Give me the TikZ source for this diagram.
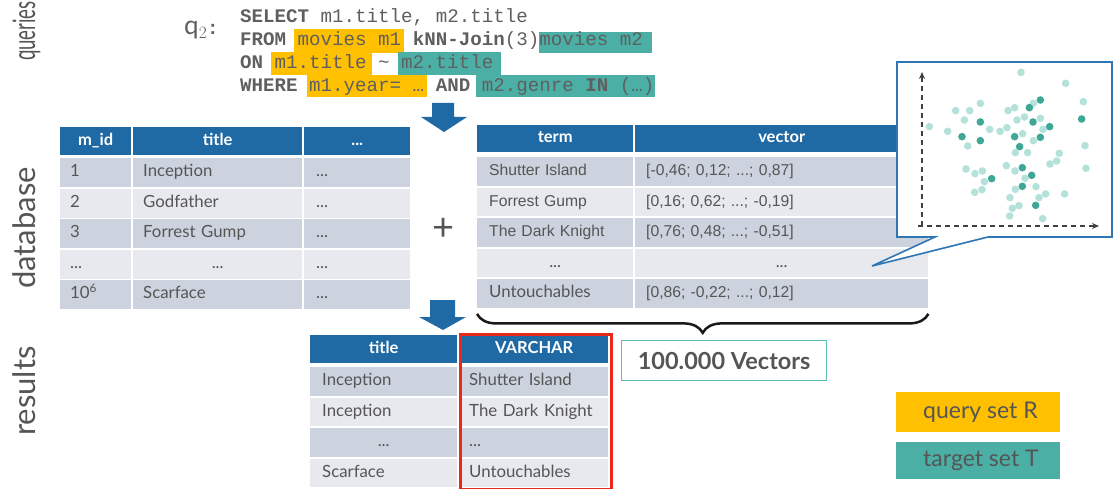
\documentclass[tikz,border=0pt]{standalone}
\usepackage{fontspec}
\setmainfont{Lato}
\setsansfont{Lato}
\setmonofont{Liberation Mono}
\newfontfamily\arialfont{Liberation Sans}
\usetikzlibrary{arrows.meta,decorations.pathreplacing}

\definecolor{hblue}{HTML}{1F69A4}
\definecolor{rowA}{HTML}{CDD3DE}
\definecolor{rowB}{HTML}{E7E9EE}
\definecolor{tgray}{HTML}{555555}
\definecolor{cgray}{HTML}{5F5F5F}
\definecolor{qyellow}{HTML}{FFC000}
\definecolor{tteal}{HTML}{4BAFA5}
\definecolor{bteal}{HTML}{5CBDB2}
\definecolor{selred}{HTML}{E8291C}
\definecolor{dotlight}{HTML}{B5E1DB}
\definecolor{dotdark}{HTML}{3FA796}
\definecolor{callblue}{HTML}{2F76B5}
\definecolor{axisgray}{HTML}{404040}
\newcommand{\ellip}{.{}.{}.}

\begin{document}
\begin{tikzpicture}[x=1pt,y=-1pt,
  celltext/.style={font=\fontsize{16.8}{18}\selectfont, text=tgray, text height=12pt, text depth=3.5pt},
  hd/.style={anchor=north west, fill=hblue, text=white, inner sep=0pt,
    font=\fontsize{16.5}{18}\selectfont\bfseries, text height=12pt, text depth=3.5pt},
  rc/.style={anchor=north west, fill=#1, inner xsep=10pt, inner ysep=0pt, align=left, celltext},
  rcc/.style={anchor=north west, fill=#1, inner xsep=0pt, inner ysep=0pt, align=center, celltext},
  code/.style={anchor=base west, inner sep=0pt, text=cgray, font=\ttfamily\fontsize{19.17}{20}\selectfont},
  side/.style={anchor=base, rotate=90, inner sep=0pt, text=tgray, font=\fontsize{31}{33}\selectfont},
  blockarrow/.style={fill=hblue},
  legbox/.style={anchor=north west, fill=#1, minimum width=164pt, inner sep=0pt},
  legtext/.style={anchor=west, inner sep=0pt, text=tgray, font=\fontsize{23}{25}\selectfont},
  dotL/.style={fill=dotlight},
  dotD/.style={fill=dotdark}
]
\useasboundingbox (0,0) rectangle (1113,489);

% ---------- side labels ----------
\node[side] (lq) at (35,31) {\scalebox{0.6}[1]{queries}};
\node[side] (ld) at (35,228) {database};
\node[side] (lr) at (35,391) {results};

% ---------- query ----------
\fill[qyellow] (294,29) rectangle (404,53);
\fill[tteal]   (539,32) rectangle (652,53);
\fill[qyellow] (271,52) rectangle (372,75);
\fill[tteal]   (398,52) rectangle (501,75);
\fill[qyellow] (307,75) rectangle (427,97);
\fill[tteal]   (476,75) rectangle (655,97);

\node[anchor=base west, inner sep=0pt, text=cgray] (qname) at (184,35)
  {\fontsize{26}{26}\selectfont$\mathrm{q}_2$\ttfamily\bfseries\fontsize{19.17}{20}\selectfont:};
\node[code] (q1) at (240,23) {\textbf{SELECT} m1.title, m2.title};
\node[code] (q2) at (240,46) {\textbf{FROM} movies m1 \textbf{kNN-Join}(3)movies m2};
\node[code] (q3) at (240,69) {\textbf{ON} m1.title \textasciitilde{} m2.title};
\node[code] (q4) at (240,92) {\textbf{WHERE} m1.year= … \textbf{AND} m2.genre \textbf{IN} (…)};

% ---------- arrows ----------
\fill[blockarrow] (432,103) -- (454,103) -- (454,117) -- (467,117) -- (444,132) -- (421,117) -- (432,117) -- cycle;
\fill[blockarrow] (430,300) -- (455,300) -- (455,317) -- (466,317) -- (443,330) -- (419,317) -- (430,317) -- cycle;

% ---------- movies table ----------
\node[hd, minimum width=71pt,  minimum height=28pt] (L-h1) at (60,127)  {m\_id};
\node[hd, minimum width=169pt, minimum height=28pt] (L-h2) at (133,127) {title};
\node[hd, minimum width=106pt, minimum height=28pt] (L-h3) at (304,127) {\ellip};
\foreach \r/\y/\c/\a/\b in {1/158/rowA/1/Inception,
                            2/188.5/rowB/2/Godfather,
                            3/219/rowA/3/Forrest Gump,
                            5/280/rowA/10\textsuperscript{6}/Scarface}{
  \node[rc=\c, text width=51pt,  minimum height=29pt] (L-\r1) at (60,\y)  {\a};
  \node[rc=\c, text width=149pt, minimum height=29pt] (L-\r2) at (133,\y) {\b};
  \node[rc=\c, text width=82pt, inner xsep=12pt, minimum height=29pt] (L-\r3) at (304,\y) {\ellip};
}
\node[rc=rowB,  text width=51pt,  minimum height=29pt] (L-41) at (60,249.5)  {\ellip};
\node[rcc=rowB, minimum width=169pt, minimum height=29pt] (L-42) at (133,249.5) {\ellip};
\node[rc=rowB,  text width=82pt, inner xsep=12pt, minimum height=29pt] (L-43) at (304,249.5) {\ellip};

\node[inner sep=0pt, text=tgray, font=\fontsize{38}{38}\selectfont] (plus) at (444,229) {+};

% ---------- vector table ----------
\node[hd, minimum width=156pt, minimum height=27pt] (R-h1) at (477,125) {term};
\node[hd, minimum width=293pt, minimum height=27pt] (R-h2) at (635,125) {vector};
\foreach \r/\y/\c/\a/\b in {1/157/rowA/Shutter Island/{[-0,46; 0,12; \ellip; 0,87]},
                            2/187.5/rowB/Forrest Gump/{[0,16; 0,62; \ellip; -0,19]},
                            3/218/rowA/The Dark Knight/{[0,76; 0,48; \ellip; -0,51]}}{
  \node[rc=\c, text width=132pt, inner xsep=12pt, minimum height=28.5pt, font=\arialfont\fontsize{15.7}{17}\selectfont] (R-\r1) at (477,\y) {\a};
  \node[rc=\c, text width=271pt, inner xsep=11pt, minimum height=28.5pt, font=\arialfont\fontsize{15.7}{17}\selectfont] (R-\r2) at (635,\y) {\b};
}
\node[rcc=rowB, minimum width=156pt, minimum height=28.5pt] (R-41) at (477,248.5) {\ellip};
\node[rcc=rowB, minimum width=293pt, minimum height=28.5pt] (R-42) at (635,248.5) {\ellip};
\node[rc=rowA, text width=132pt, inner xsep=12pt, minimum height=28.5pt] (R-51) at (477,279) {Untouchables};
\node[rc=rowA, text width=271pt, inner xsep=11pt, minimum height=28.5pt, font=\arialfont\fontsize{15.7}{17}\selectfont] (R-52) at (635,279) {[0,86; -0,22; \ellip; 0,12]};

% brace and vector count
\draw[decorate, decoration={brace, amplitude=19pt}, line width=2.5pt, black!90]
  ([yshift=-6pt]R-52.south east) -- ([yshift=-6pt]R-51.south west);
\node[draw=bteal, line width=1.3pt, anchor=north west, minimum width=205pt, minimum height=40pt,
      inner sep=0pt, text=tgray, font=\fontsize{23.5}{25}\selectfont\bfseries] (count) at (621,340) {100.000 Vectors};

% ---------- result table ----------
\node[hd, minimum width=147pt, minimum height=28pt] (S-h1) at (310,335) {title};
\node[hd, minimum width=148pt, minimum height=28pt] (S-h2) at (460,335) {VARCHAR};
\foreach \r/\y/\c/\a/\b in {1/367/rowA/Inception/Shutter Island,
                            2/397.5/rowB/Inception/The Dark Knight,
                            4/458.5/rowB/Scarface/Untouchables}{
  \node[rc=\c, text width=123pt, inner xsep=12pt, minimum height=28.5pt] (S-\r1) at (310,\y) {\a};
  \node[rc=\c, text width=130pt, inner xsep=9pt,  minimum height=28.5pt] (S-\r2) at (460,\y) {\b};
}
\node[rcc=rowA, minimum width=147pt, minimum height=28.5pt] (S-31) at (310,428) {\ellip};
\node[rc=rowA, text width=130pt, inner xsep=9pt, minimum height=28.5pt] (S-32) at (460,428) {\ellip};

\node[draw=selred, line width=3pt, anchor=north west, minimum width=151pt, minimum height=155pt, inner sep=0pt] (sel) at (458.5,332.5) {};

% ---------- callout with embedding space ----------
\draw[callblue, line width=1.6pt, fill=white, line join=miter]
  (897,62) -- (1112,62) -- (1112,237) -- (988,237) -- (872,266) -- (935,237) -- (897,237) -- cycle;
\draw[axisgray, line width=1.3pt, dash pattern=on 5pt off 4pt, -{Stealth[length=7pt,width=6pt]}]
  (922,226) -- (922,72);
\draw[axisgray, line width=1.3pt, dash pattern=on 5pt off 4pt, -{Stealth[length=7pt,width=6pt]}]
  (918,226) -- (1099,226);
\begin{scope}[shift={(890,55)}, x=0.3333pt, y=-0.3333pt]
  \foreach \px/\py in {393/52, 527/85, 580/140, 197/167, 239/167, 271/145, 223/195, 354/167,
      374/158, 430/145, 381/195, 403/186, 451/190, 118/215, 173/229, 299/223, 330/229, 351/218,
      398/236, 459/223, 233/273, 430/257, 376/293, 413/293, 585/272, 508/295, 500/318, 480/327,
      588/340, 228/342, 255/356, 277/348, 349/332, 375/348, 283/380, 405/370, 254/412, 276/404,
      376/403, 438/395, 360/428, 447/428, 467/417, 524/417, 367/460, 387/452, 359/483, 458/491}
    \fill[dotL] (\px,\py) circle[radius=3.8pt];
  \foreach \px/\py in {451/135, 418/158, 429/201, 479/215, 575/192, 271/201, 216/245, 271/257,
      374/245, 451/247, 389/275, 397/338, 425/361, 305/371, 397/394, 437/451}
    \fill[dotD] (\px,\py) circle[radius=3.8pt];
\end{scope}

% ---------- legend ----------
\node[legbox=qyellow, minimum height=40pt] (legRbox) at (896,392) {};
\node[legtext] (legR) at ([xshift=27pt]legRbox.west) {query set R};
\node[legbox=tteal, minimum height=37pt] (legTbox) at (896,442) {};
\node[legtext] (legT) at ([xshift=27pt]legTbox.west) {target set T};
\end{tikzpicture}
\end{document}
